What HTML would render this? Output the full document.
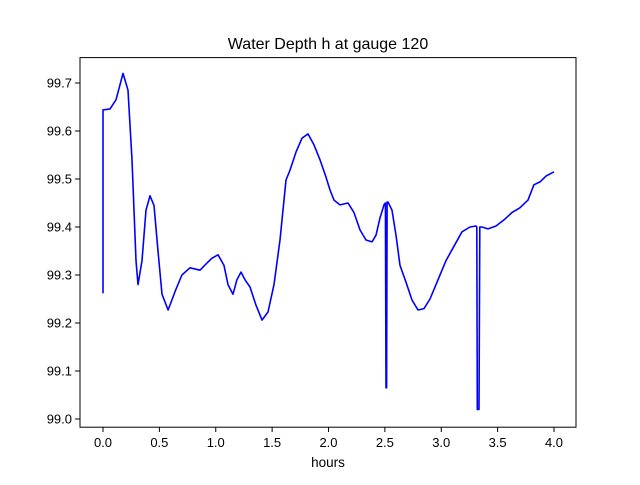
<!DOCTYPE html>
<html><head><meta charset="utf-8"><style>
body{margin:0;background:#fff}
svg text{font-family:"Liberation Sans","DejaVu Sans",sans-serif;fill:#000}
</style></head><body>
<svg id="chart" width="640" height="480">
<rect width="640" height="480" fill="#fff"/>
<text x="328" y="49" font-size="16" text-anchor="middle">Water Depth h at gauge 120</text>
<g id="axes"></g>
<path id="line" fill="none" stroke="#0000ff" stroke-width="1.6" stroke-linejoin="round"/>
<rect x="80" y="57.6" width="496" height="369.6" fill="none" stroke="#000" stroke-width="1"/>
<text x="328" y="467" font-size="13.5" text-anchor="middle">hours</text>
</svg>
<script>
const times=[0,0,0.062,0.115,0.177,0.222,0.257,0.293,0.31,0.346,0.381,0.417,0.452,0.488,0.523,0.577,0.647,0.70,0.772,0.86,0.931,0.967,1.02,1.073,1.109,1.153,1.188,1.224,1.259,1.304,1.357,1.41,1.463,1.517,1.57,1.623,1.659,1.712,1.765,1.818,1.871,1.925,1.978,2.013,2.049,2.102,2.173,2.226,2.279,2.333,2.386,2.421,2.457,2.492,2.505,2.51,2.515,2.52,2.528,2.563,2.599,2.634,2.687,2.741,2.794,2.847,2.9,2.971,3.042,3.113,3.184,3.255,3.308,3.315,3.32,3.335,3.342,3.361,3.415,3.486,3.557,3.627,3.698,3.769,3.822,3.876,3.929,4.0];
const depths=[99.262,99.644,99.646,99.665,99.72,99.685,99.54,99.33,99.28,99.33,99.435,99.465,99.445,99.35,99.26,99.227,99.27,99.30,99.315,99.31,99.327,99.335,99.342,99.32,99.28,99.26,99.29,99.306,99.29,99.275,99.237,99.206,99.223,99.28,99.373,99.498,99.519,99.556,99.585,99.594,99.571,99.54,99.504,99.477,99.456,99.446,99.45,99.43,99.394,99.373,99.369,99.383,99.419,99.446,99.45,99.065,99.065,99.452,99.452,99.435,99.383,99.32,99.285,99.248,99.227,99.23,99.25,99.29,99.33,99.36,99.39,99.40,99.402,99.40,99.02,99.02,99.40,99.40,99.396,99.402,99.415,99.43,99.44,99.456,99.488,99.494,99.506,99.515];
const xTicks=[0,0.5,1,1.5,2,2.5,3,3.5,4];
const yTicks=[99.0,99.1,99.2,99.3,99.4,99.5,99.6,99.7];
const xs=t=>103+t*112.75;
const ys=v=>419-(v-99.0)*480;
const NS='http://www.w3.org/2000/svg';
const ax=document.getElementById('axes');
function mk(tag,attrs){const e=document.createElementNS(NS,tag);for(const k in attrs)e.setAttribute(k,attrs[k]);ax.appendChild(e);return e;}
xTicks.forEach(t=>{
  const l=mk('line',{x1:xs(t),x2:xs(t),y1:427.2,y2:432,stroke:'#000'});
  
  
  const tx=mk('text',{x:xs(t),y:447,'font-size':13,'text-anchor':'middle'});
  tx.textContent=t.toFixed(1);
  
  
});
yTicks.forEach(v=>{
  const l=mk('line',{x1:75,x2:80,y1:ys(v),y2:ys(v),stroke:'#000'});
  
  
  const tx=mk('text',{x:72,y:ys(v)+4.5,'font-size':13,'text-anchor':'end'});
  tx.textContent=v.toFixed(1);
  
  
});
document.getElementById('line').setAttribute('d',times.map((t,i)=>(i?'L':'M')+xs(t).toFixed(1)+','+ys(depths[i]).toFixed(1)).join(''));
</script>
</body></html>
